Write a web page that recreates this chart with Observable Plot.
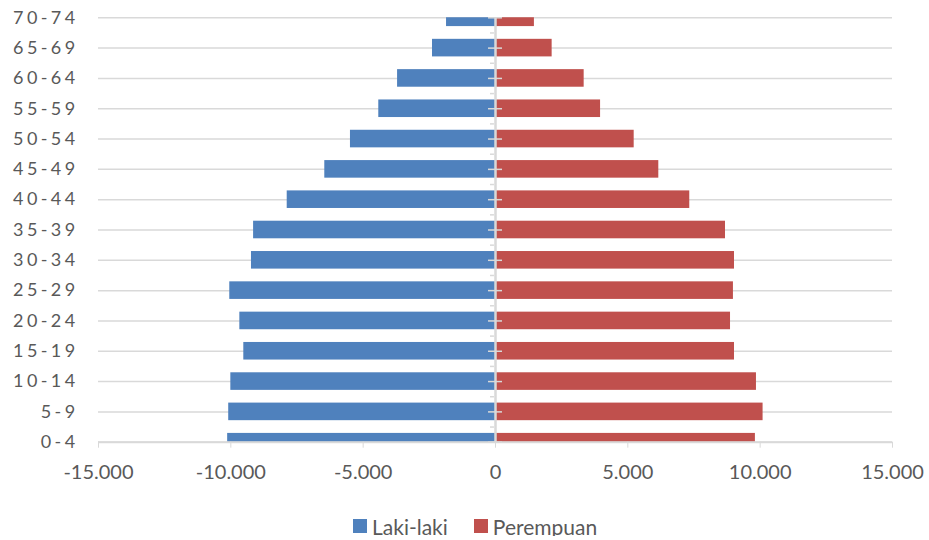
<!DOCTYPE html>
<html>
<head>
<meta charset="utf-8">
<script src="https://cdn.jsdelivr.net/npm/d3@7"></script>
<script src="https://cdn.jsdelivr.net/npm/@observablehq/plot@0.6"></script>
<style>
  body { margin: 0; background: #fff; font-family: Lato, sans-serif; }
  #chart svg { display: block; }
  g[aria-label="y-axis tick label"] text { letter-spacing: 3.4px; }
  .legend { display: flex; align-items: center; height: 20px; padding-top: 16px; padding-left: 353px; font-family: Lato, sans-serif; font-size: 21px; color: #595959; }
  .legend .sw { width: 14px; height: 14px; margin-right: 5px; }
  .legend .item { display: flex; align-items: center; margin-right: 26px; }
</style>
</head>
<body>
<div id="chart"></div>
<script>
const ages = ["0-4","5-9","10-14","15-19","20-24","25-29","30-34","35-39","40-44","45-49","50-54","55-59","60-64","65-69","70-74"];
const male = [10120, 10080, 10000, 9510, 9660, 10040, 9220, 9140, 7870, 6450, 5480, 4410, 3700, 2380, 1850];
const female = [9820, 10110, 9860, 9030, 8880, 8990, 9030, 8690, 7340, 6170, 5240, 3970, 3350, 2140, 1470];
const seriesNames = ["Laki-laki", "Perempuan"];
const seriesColors = ["#4F81BD", "#C0504D"];
const xTicks = [-15000, -10000, -5000, 0, 5000, 10000, 15000];

const rows = ages.map((a, i) => ({age: a, male: male[i], female: female[i]}));
const fmt = d3.formatLocale({decimal: ",", thousands: ".", grouping: [3], currency: ["", ""], minus: "-"}).format(",");

const W = 929, H = 500;
const yTop = 17.3, yBottom = 441.7;
const step = (yBottom - yTop) / (ages.length - 1);
const tickLen = 264;

const chart = Plot.plot({
  width: W,
  height: H,
  marginLeft: 98,
  marginRight: 37,
  marginTop: yTop,
  marginBottom: H - yBottom,
  style: {fontFamily: "Lato, sans-serif", color: "#595959", background: "#fff"},
  x: {domain: [-15000, 15000]},
  y: {
    type: "band",
    domain: ages.slice().reverse(),
    range: [yTop - step / 2, yBottom + step / 2],
    paddingInner: 0.42,
    paddingOuter: 0.21,
    round: false
  },
  marks: [
    Plot.gridY({stroke: "#d9d9d9", strokeOpacity: 1, strokeWidth: 1.5}),
    Plot.barX(rows, {y: "age", x1: 0, x2: d => -d.male, fill: seriesColors[0], clip: true}),
    Plot.barX(rows, {y: "age", x1: 0, x2: d => d.female, fill: seriesColors[1], clip: true}),
    Plot.ruleY([ages[0]], {stroke: "#d9d9d9", strokeWidth: 2}),
    Plot.ruleX([0], {stroke: "#d9d9d9", strokeWidth: 2.5}),
    Plot.ruleY(ages, {y: d => d, x1: -tickLen, x2: tickLen, stroke: "#d9d9d9", strokeWidth: 1.5}),
    Plot.ruleY(ages.slice(1), {y: d => d, x1: -190, x2: -40, dy: step / 2, stroke: "#d9d9d9", strokeWidth: 1.5}),
    Plot.axisX({ticks: xTicks, tickFormat: fmt, tickSize: 6, tickPadding: 17, stroke: "#d9d9d9", fill: "#595959", fontSize: 20, label: null}),
    Plot.axisY({tickSize: 0, tickPadding: 20, fill: "#595959", fontSize: 18, label: null})
  ]
});
document.getElementById("chart").appendChild(chart);

const legend = document.createElement("div");
legend.className = "legend";
seriesNames.forEach((n, i) => {
  const item = document.createElement("div");
  item.className = "item";
  const sw = document.createElement("div");
  sw.className = "sw";
  sw.style.background = seriesColors[i];
  const t = document.createElement("span");
  t.textContent = n;
  item.appendChild(sw);
  item.appendChild(t);
  legend.appendChild(item);
});
document.body.appendChild(legend);
</script>
</body>
</html>
